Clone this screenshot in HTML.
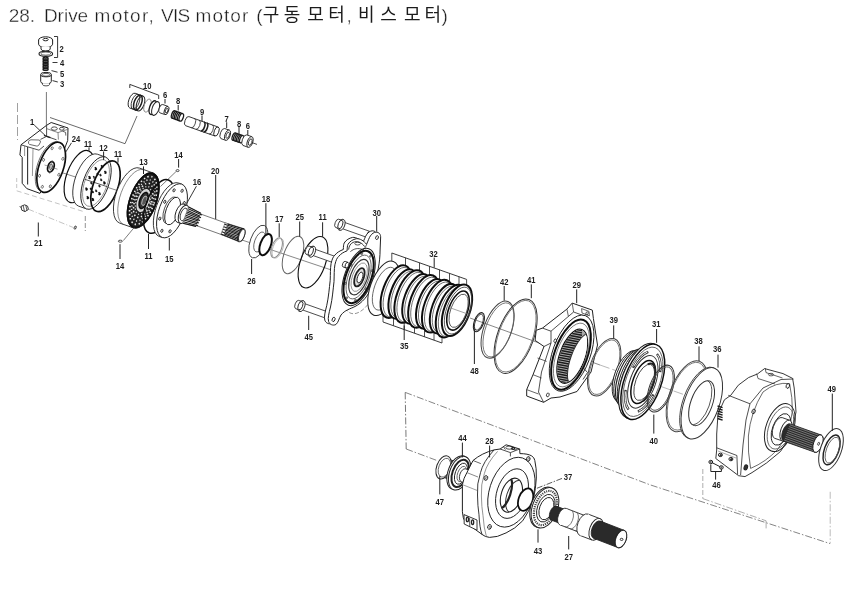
<!DOCTYPE html>
<html><head><meta charset="utf-8"><title>28. Drive motor, VIS motor</title>
<style>html,body{margin:0;padding:0;background:#fff}body{width:863px;height:590px;overflow:hidden;font-family:"Liberation Sans",sans-serif}svg{display:block}text{font-family:"Liberation Sans",sans-serif;fill:#1a1a1a}.n{fill:#1c1c1c;font-weight:bold}.k{font-family:"Liberation Sans","Noto Sans CJK KR",sans-serif}</style></head><body>
<svg width="863" height="590" viewBox="0 0 863 590">
<rect width="863" height="590" fill="#fff"/>
<defs><filter id="soft" x="0" y="0" width="863" height="590" filterUnits="userSpaceOnUse"><feGaussianBlur stdDeviation="0.33"/></filter></defs>
<g filter="url(#soft)">
<text x="8.7" y="21.7" textLength="26.4" font-size="19" fill="#1a1a1a" stroke="#fff" stroke-width="0.35" lengthAdjust="spacing">28.</text>
<text x="43.9" y="21.7" textLength="44.3" font-size="19" fill="#1a1a1a" stroke="#fff" stroke-width="0.35" lengthAdjust="spacing">Drive</text>
<text x="94.6" y="21.7" textLength="59.2" font-size="19" fill="#1a1a1a" stroke="#fff" stroke-width="0.35" lengthAdjust="spacing">motor,</text>
<text x="161.1" y="21.7" textLength="29.2" font-size="19" fill="#1a1a1a" stroke="#fff" stroke-width="0.35" lengthAdjust="spacing">VIS</text>
<text x="195.5" y="21.7" textLength="52.8" font-size="19" fill="#1a1a1a" stroke="#fff" stroke-width="0.35" lengthAdjust="spacing">motor</text>
<text x="256.2" y="21.7" textLength="6.3" font-size="19" fill="#1a1a1a" stroke="#fff" stroke-width="0.35" lengthAdjust="spacing">(</text>
<text class="k" x="262.7" y="21.4" textLength="37.5" font-size="18" fill="#1a1a1a" lengthAdjust="spacing">구동</text>
<text class="k" x="307.3" y="21.4" textLength="37.5" font-size="18" fill="#1a1a1a" lengthAdjust="spacing">모터</text>
<text class="k" x="358.1" y="21.4" textLength="38.7" font-size="18" fill="#1a1a1a" lengthAdjust="spacing">비스</text>
<text class="k" x="403.9" y="21.4" textLength="37.2" font-size="18" fill="#1a1a1a" lengthAdjust="spacing">모터</text>
<text x="346.5" y="21.7" font-size="19" fill="#1a1a1a" stroke="#fff" stroke-width="0.35" lengthAdjust="spacing">,</text>
<text x="441.5" y="21.7" font-size="19" fill="#1a1a1a" stroke="#fff" stroke-width="0.35" lengthAdjust="spacing">)</text>
<path d="M405.2 392.4L406.2 449" stroke="#555" stroke-width="0.8" fill="none" stroke-dasharray="7 2 1.5 2"/>
<path d="M405.2 392.4L650 484.8L830 543.6" stroke="#666" stroke-width="0.8" fill="none" stroke-dasharray="7 2 1.5 2"/>
<path d="M406.2 449L436.4 460.3" stroke="#666" stroke-width="0.8" fill="none" stroke-dasharray="7 2 1.5 2"/>
<path d="M830.2 491.8L830.2 543.6" stroke="#aaa" stroke-width="0.8" fill="none" stroke-dasharray="7 2 1.5 2"/>
<path d="M702.8 469L702.8 498.6" stroke="#999" stroke-width="0.8" fill="none" stroke-dasharray="5 2"/>
<path d="M702.8 498.6L766.1 520.8" stroke="#999" stroke-width="0.8" fill="none" stroke-dasharray="7 2 1.5 2"/>
<path d="M766.1 520.8L766.1 528.4" stroke="#999" stroke-width="0.8" fill="none" />
<path d="M17.5 103L17.5 140" stroke="#888" stroke-width="0.8" fill="none" stroke-dasharray="9 3"/>
<path d="M46.4 92L46.4 131" stroke="#555" stroke-width="0.8" fill="none" />
<path d="M16.7 178L16.7 190" stroke="#b5b5b5" stroke-width="0.8" fill="none" stroke-dasharray="4 2"/>
<path d="M16.7 190.8L85 212" stroke="#b5b5b5" stroke-width="0.8" fill="none" stroke-dasharray="5 3"/>
<path d="M28.3 209.2L73.3 227.5" stroke="#b5b5b5" stroke-width="0.8" fill="none" stroke-dasharray="6 2 1 2"/>
<path d="M85.3 216L85.3 231" stroke="#777" stroke-width="0.8" fill="none" stroke-dasharray="5 2"/>
<path d="M21 206.4L24.6 204.8L27.6 206.2L28.4 209.4L25 211.6L21.8 210.2Z" stroke="#333" stroke-width="1.0" fill="none" />
<path d="M23.2 205.6L24.4 211" stroke="#333" stroke-width="0.8" fill="none" />
<path d="M25.8 205.4L27 210.6" stroke="#333" stroke-width="0.8" fill="none" />
<path d="M19.6 206L21.6 208.6" stroke="#555" stroke-width="0.8" fill="none" />
<ellipse cx="75.2" cy="227.6" rx="0.9" ry="1.7" transform="rotate(20 75.2 227.6)" fill="none" stroke="#333" stroke-width="0.9" />
<text transform="translate(38.3 246.3) scale(0.78 1)" text-anchor="middle" font-size="9.8" class="n">21</text>
<path d="M38.3 222.5L38.3 236.5" stroke="#222" stroke-width="1.0" fill="none" />
<path d="M50 117.5L125 143.7L137 116" stroke="#444" stroke-width="0.8" fill="none" />
<path d="M60 172L215 222" stroke="#555" stroke-width="0.7" fill="none" />
<path d="M236 238L400 293" stroke="#555" stroke-width="0.7" fill="none" />
<path d="M470 318L600 365" stroke="#555" stroke-width="0.7" fill="none" />
<path d="M600 365L790 432" stroke="#888" stroke-width="0.6" fill="none" stroke-dasharray="10 3"/>
<ellipse cx="45.6" cy="40" rx="7" ry="3.2" fill="#fff" stroke="#222" stroke-width="1.0"/>
<path d="M38.6 40v4.2a7 3.2 0 0 0 14 0V40" stroke="#222" stroke-width="1.0" fill="#fff" />
<ellipse cx="45.6" cy="39.6" rx="2.6" ry="1.2" fill="none" stroke="#222" stroke-width="1.0"/>
<path d="M41 46.5v2.5a4.6 2 0 0 0 9.2 0v-2.5" stroke="#222" stroke-width="1.0" fill="#fff" />
<ellipse cx="45.8" cy="53.8" rx="6.8" ry="2.6" fill="none" stroke="#222" stroke-width="1.1"/>
<ellipse cx="45.8" cy="53.6" rx="5" ry="1.6" fill="none" stroke="#222" stroke-width="0.7"/>
<path d="M54 36.5h3.6v21h-3.6" stroke="#222" stroke-width="0.9" fill="none" />
<ellipse cx="45.6" cy="58.2" rx="2.6" ry="1" fill="none" stroke="#1a1a1a" stroke-width="1.2"/>
<ellipse cx="45.6" cy="59.8" rx="2.6" ry="1" fill="none" stroke="#1a1a1a" stroke-width="1.2"/>
<ellipse cx="45.6" cy="61.4" rx="2.6" ry="1" fill="none" stroke="#1a1a1a" stroke-width="1.2"/>
<ellipse cx="45.6" cy="63" rx="2.6" ry="1" fill="none" stroke="#1a1a1a" stroke-width="1.2"/>
<ellipse cx="45.6" cy="64.6" rx="2.6" ry="1" fill="none" stroke="#1a1a1a" stroke-width="1.2"/>
<ellipse cx="45.6" cy="66.2" rx="2.6" ry="1" fill="none" stroke="#1a1a1a" stroke-width="1.2"/>
<ellipse cx="45.6" cy="67.8" rx="2.6" ry="1" fill="none" stroke="#1a1a1a" stroke-width="1.2"/>
<ellipse cx="45.6" cy="69.4" rx="2.6" ry="1" fill="none" stroke="#1a1a1a" stroke-width="1.2"/>
<path d="M40.7 74.6v6.8a5.3 2.4 0 0 0 10.6 0v-6.8" stroke="#222" stroke-width="1.0" fill="#fff" />
<path d="M42.5 83.2v1.2a3.5 1.5 0 0 0 7 0v-1.2" stroke="#222" stroke-width="0.8" fill="#fff" />
<ellipse cx="46" cy="74.6" rx="5.3" ry="2.2" fill="#fff" stroke="#222" stroke-width="1.0"/>
<ellipse cx="46" cy="74.8" rx="3.8" ry="1.4" fill="none" stroke="#222" stroke-width="0.7"/>
<path d="M52.5 62.5L57.5 62.5" stroke="#222" stroke-width="0.9" fill="none" />
<path d="M51.5 70.6L57.5 72.2" stroke="#222" stroke-width="0.9" fill="none" />
<path d="M52.5 80.6L57.8 82" stroke="#222" stroke-width="0.9" fill="none" />
<text transform="translate(61.5 52.1) scale(0.78 1)" text-anchor="middle" font-size="9.8" class="n">2</text>
<text transform="translate(62 66.1) scale(0.78 1)" text-anchor="middle" font-size="9.8" class="n">4</text>
<text transform="translate(62 77.3) scale(0.78 1)" text-anchor="middle" font-size="9.8" class="n">5</text>
<text transform="translate(62 87.3) scale(0.78 1)" text-anchor="middle" font-size="9.8" class="n">3</text>
<path d="M129.8 88V84.4L158.7 95.2V99" stroke="#222" stroke-width="0.9" fill="none" />
<text transform="translate(147.3 88.5) scale(0.78 1)" text-anchor="middle" font-size="9.8" class="n">10</text>
<ellipse cx="132.5" cy="100.7" rx="3.7" ry="7.8" transform="rotate(20 132.5 100.7)" fill="#fff" stroke="none" stroke-width="0" />
<path d="M135.2 93.3L143.2 96.2L137.8 110.8L129.8 108Z" stroke="none" stroke-width="0" fill="#fff" />
<path d="M135.2 93.3A3.7 7.8 20 0 0 129.8 108" fill="none" stroke="#222" stroke-width="1.0" />
<path d="M135.2 93.3L143.2 96.2" stroke="#222" stroke-width="1.0" fill="none" />
<path d="M129.8 108L137.8 110.8" stroke="#222" stroke-width="1.0" fill="none" />
<ellipse cx="140.5" cy="103.5" rx="3.7" ry="7.8" transform="rotate(20 140.5 103.5)" fill="#fff" stroke="#222" stroke-width="1.0" />
<ellipse cx="137.9" cy="102.6" rx="3.7" ry="7.8" transform="rotate(20 137.9 102.6)" fill="none" stroke="#1a1a1a" stroke-width="1.5" />
<ellipse cx="135.5" cy="101.7" rx="3.7" ry="7.8" transform="rotate(20 135.5 101.7)" fill="none" stroke="#222" stroke-width="0.8" />
<ellipse cx="147.5" cy="105.6" rx="3.2" ry="6.8" transform="rotate(20 147.5 105.6)" fill="#fff" stroke="#777" stroke-width="0.8" />
<ellipse cx="153" cy="107.6" rx="3.4" ry="7.2" transform="rotate(20 153 107.6)" fill="#fff" stroke="#1a1a1a" stroke-width="1.3" />
<ellipse cx="155.6" cy="108.5" rx="3.4" ry="7.2" transform="rotate(20 155.6 108.5)" fill="#fff" stroke="#222" stroke-width="1.0" />
<ellipse cx="161.3" cy="108.7" rx="2.1" ry="4.4" transform="rotate(20 161.3 108.7)" fill="#fff" stroke="none" stroke-width="0" />
<path d="M162.8 104.5L168 106.4L165 114.6L159.8 112.8Z" stroke="none" stroke-width="0" fill="#fff" />
<path d="M162.8 104.5A2.1 4.4 20 0 0 159.8 112.8" fill="none" stroke="#222" stroke-width="0.9" />
<path d="M162.8 104.5L168 106.4" stroke="#222" stroke-width="0.9" fill="none" />
<path d="M159.8 112.8L165 114.6" stroke="#222" stroke-width="0.9" fill="none" />
<ellipse cx="166.5" cy="110.5" rx="2.1" ry="4.4" transform="rotate(20 166.5 110.5)" fill="#fff" stroke="#222" stroke-width="0.9" />
<ellipse cx="166.7" cy="110.6" rx="1.2" ry="2.4" transform="rotate(20 166.7 110.6)" fill="none" stroke="#222" stroke-width="0.8" />
<text transform="translate(165 98.1) scale(0.78 1)" text-anchor="middle" font-size="9.8" class="n">6</text>
<path d="M165 99L165 103.5" stroke="#222" stroke-width="1.0" fill="none" />
<ellipse cx="173.6" cy="114.6" rx="1.9" ry="4" transform="rotate(20 173.6 114.6)" fill="#fff" stroke="#1a1a1a" stroke-width="1.3" />
<ellipse cx="175.2" cy="115.1" rx="1.9" ry="4" transform="rotate(20 175.2 115.1)" fill="#fff" stroke="#1a1a1a" stroke-width="1.3" />
<ellipse cx="176.7" cy="115.7" rx="1.9" ry="4" transform="rotate(20 176.7 115.7)" fill="#fff" stroke="#1a1a1a" stroke-width="1.3" />
<ellipse cx="178.2" cy="116.2" rx="1.9" ry="4" transform="rotate(20 178.2 116.2)" fill="#fff" stroke="#1a1a1a" stroke-width="1.3" />
<ellipse cx="179.8" cy="116.8" rx="1.9" ry="4" transform="rotate(20 179.8 116.8)" fill="#fff" stroke="#1a1a1a" stroke-width="1.3" />
<ellipse cx="181.3" cy="117.3" rx="1.9" ry="4" transform="rotate(20 181.3 117.3)" fill="#fff" stroke="#1a1a1a" stroke-width="1.3" />
<text transform="translate(178.2 104.1) scale(0.78 1)" text-anchor="middle" font-size="9.8" class="n">8</text>
<path d="M178.2 105L178.2 110.5" stroke="#222" stroke-width="1.0" fill="none" />
<ellipse cx="187.3" cy="121.1" rx="2.3" ry="4.8" transform="rotate(20 187.3 121.1)" fill="#fff" stroke="none" stroke-width="0" />
<path d="M188.9 116.6L218.1 127L214.9 136L185.6 125.7Z" stroke="none" stroke-width="0" fill="#fff" />
<path d="M188.9 116.6A2.3 4.8 20 0 0 185.6 125.7" fill="none" stroke="#222" stroke-width="0.9" />
<path d="M188.9 116.6L218.1 127" stroke="#222" stroke-width="0.9" fill="none" />
<path d="M185.6 125.7L214.9 136" stroke="#222" stroke-width="0.9" fill="none" />
<ellipse cx="216.5" cy="131.5" rx="2.3" ry="4.8" transform="rotate(20 216.5 131.5)" fill="#fff" stroke="#222" stroke-width="0.9" />
<path d="M212.5 125A2.3 4.8 20 0 1 209.2 134" fill="none" stroke="#222" stroke-width="0.8" />
<path d="M206.8 123A2.3 4.8 20 0 1 203.5 132" fill="none" stroke="#222" stroke-width="1.6" />
<path d="M204 122A2.3 4.8 20 0 1 200.7 131" fill="none" stroke="#222" stroke-width="1.6" />
<path d="M199.3 120.3A2.3 4.8 20 0 1 196 129.3" fill="none" stroke="#222" stroke-width="0.8" />
<path d="M194.6 118.6A2.3 4.8 20 0 1 191.3 127.7" fill="none" stroke="#222" stroke-width="0.8" />
<text transform="translate(202 114.7) scale(0.78 1)" text-anchor="middle" font-size="9.8" class="n">9</text>
<path d="M202 115.5L202 121.5" stroke="#222" stroke-width="1.0" fill="none" />
<ellipse cx="222.8" cy="133.5" rx="2.6" ry="5.4" transform="rotate(20 222.8 133.5)" fill="#fff" stroke="none" stroke-width="0" />
<path d="M224.6 128.5L229.3 130.1L225.7 140.3L220.9 138.6Z" stroke="none" stroke-width="0" fill="#fff" />
<path d="M224.6 128.5A2.6 5.4 20 0 0 220.9 138.6" fill="none" stroke="#222" stroke-width="0.9" />
<path d="M224.6 128.5L229.3 130.1" stroke="#222" stroke-width="0.9" fill="none" />
<path d="M220.9 138.6L225.7 140.3" stroke="#222" stroke-width="0.9" fill="none" />
<ellipse cx="227.5" cy="135.2" rx="2.6" ry="5.4" transform="rotate(20 227.5 135.2)" fill="#fff" stroke="#222" stroke-width="0.9" />
<ellipse cx="227.7" cy="135.3" rx="1.5" ry="3.2" transform="rotate(20 227.7 135.3)" fill="none" stroke="#222" stroke-width="0.8" />
<text transform="translate(226.7 121.5) scale(0.78 1)" text-anchor="middle" font-size="9.8" class="n">7</text>
<path d="M226.7 122.2L226.7 128" stroke="#222" stroke-width="1.0" fill="none" />
<ellipse cx="234.2" cy="136.6" rx="1.8" ry="3.9" transform="rotate(20 234.2 136.6)" fill="#fff" stroke="#1a1a1a" stroke-width="1.3" />
<ellipse cx="235.7" cy="137.1" rx="1.8" ry="3.9" transform="rotate(20 235.7 137.1)" fill="#fff" stroke="#1a1a1a" stroke-width="1.3" />
<ellipse cx="237.2" cy="137.7" rx="1.8" ry="3.9" transform="rotate(20 237.2 137.7)" fill="#fff" stroke="#1a1a1a" stroke-width="1.3" />
<ellipse cx="238.7" cy="138.2" rx="1.8" ry="3.9" transform="rotate(20 238.7 138.2)" fill="#fff" stroke="#1a1a1a" stroke-width="1.3" />
<ellipse cx="240.2" cy="138.7" rx="1.8" ry="3.9" transform="rotate(20 240.2 138.7)" fill="#fff" stroke="#1a1a1a" stroke-width="1.3" />
<ellipse cx="241.7" cy="139.2" rx="1.8" ry="3.9" transform="rotate(20 241.7 139.2)" fill="#fff" stroke="#1a1a1a" stroke-width="1.3" />
<text transform="translate(239 126.5) scale(0.78 1)" text-anchor="middle" font-size="9.8" class="n">8</text>
<path d="M239 127L239 134" stroke="#222" stroke-width="1.0" fill="none" />
<ellipse cx="244.8" cy="140.2" rx="2.7" ry="5.6" transform="rotate(20 244.8 140.2)" fill="#fff" stroke="none" stroke-width="0" />
<path d="M246.7 134.9L251.9 136.7L248.1 147.3L242.9 145.4Z" stroke="none" stroke-width="0" fill="#fff" />
<path d="M246.7 134.9A2.7 5.6 20 0 0 242.9 145.4" fill="none" stroke="#222" stroke-width="0.9" />
<path d="M246.7 134.9L251.9 136.7" stroke="#222" stroke-width="0.9" fill="none" />
<path d="M242.9 145.4L248.1 147.3" stroke="#222" stroke-width="0.9" fill="none" />
<ellipse cx="250" cy="142" rx="2.7" ry="5.6" transform="rotate(20 250 142)" fill="#fff" stroke="#222" stroke-width="0.9" />
<ellipse cx="250.2" cy="142.1" rx="1.6" ry="3.4" transform="rotate(20 250.2 142.1)" fill="none" stroke="#222" stroke-width="0.8" />
<path d="M252 142.6L257 144.4" stroke="#222" stroke-width="0.8" fill="none" />
<text transform="translate(247.8 129.1) scale(0.78 1)" text-anchor="middle" font-size="9.8" class="n">6</text>
<path d="M247.8 130L247.8 135" stroke="#222" stroke-width="1.0" fill="none" />
<path d="M21 144.8L46.6 125.3L51.2 122.5L68 128L67.7 140.5L64 150L40 193.4L26.8 188.6L22.2 183.3L22.2 157.3L19.9 155Z" stroke="#222" stroke-width="1.0" fill="#fff" />
<path d="M21 144.8L39 150.2L44 146" stroke="#222" stroke-width="0.8" fill="none" />
<path d="M27.6 147L27.6 184.5" stroke="#333" stroke-width="1.1" fill="none" />
<path d="M24.6 146L24.6 156" stroke="#666" stroke-width="0.7" fill="none" />
<path d="M33 149L32.4 176" stroke="#666" stroke-width="0.7" fill="none" />
<path d="M28.6 141.6q0.4-1.6 2.4-1.8l8 0.2q1.8 0.4 1.4 2.2l-1.6 3q-0.8 1-2.4 0.8l-7-1.6q-1.4-0.8-0.8-2.8z" stroke="#444" stroke-width="0.8" fill="none" />
<path d="M46.6 125.3L46.6 136.4L56.5 139.8" stroke="#222" stroke-width="0.8" fill="none" />
<path d="M40.5 139.4L46.6 136.4" stroke="#222" stroke-width="0.8" fill="none" />
<path d="M46.6 128.6L58 132.6L58.4 139.6" stroke="#555" stroke-width="0.7" fill="none" />
<path d="M58 132.6L67.6 129.4" stroke="#555" stroke-width="0.7" fill="none" />
<ellipse cx="54.3" cy="128.6" rx="3" ry="1.7" fill="none" stroke="#222" stroke-width="0.8"/>
<ellipse cx="61.8" cy="128.8" rx="2.4" ry="1.4" fill="none" stroke="#222" stroke-width="0.8"/>
<path d="M62.6 131.2L65.6 132.4L65.8 135.6" stroke="#222" stroke-width="0.7" fill="none" />
<ellipse cx="49.4" cy="166.7" rx="12" ry="26" transform="rotate(19 49.4 166.7)" fill="#fff" stroke="#555" stroke-width="0.8" />
<ellipse cx="51.2" cy="167.3" rx="12.2" ry="26.2" transform="rotate(19 51.2 167.3)" fill="#fff" stroke="#111" stroke-width="1.7" />
<ellipse cx="60.1" cy="147.8" rx="1" ry="1.5" transform="rotate(19 60.1 147.8)" fill="none" stroke="#444" stroke-width="0.7" />
<ellipse cx="62.9" cy="158.8" rx="1" ry="1.5" transform="rotate(19 62.9 158.8)" fill="none" stroke="#444" stroke-width="0.7" />
<ellipse cx="58.9" cy="174.7" rx="1" ry="1.5" transform="rotate(19 58.9 174.7)" fill="none" stroke="#444" stroke-width="0.7" />
<ellipse cx="50.3" cy="186.3" rx="1" ry="1.5" transform="rotate(19 50.3 186.3)" fill="none" stroke="#444" stroke-width="0.7" />
<ellipse cx="42.3" cy="186.8" rx="1" ry="1.5" transform="rotate(19 42.3 186.8)" fill="none" stroke="#444" stroke-width="0.7" />
<ellipse cx="39.5" cy="175.8" rx="1" ry="1.5" transform="rotate(19 39.5 175.8)" fill="none" stroke="#444" stroke-width="0.7" />
<ellipse cx="43.5" cy="159.9" rx="1" ry="1.5" transform="rotate(19 43.5 159.9)" fill="none" stroke="#444" stroke-width="0.7" />
<ellipse cx="52.1" cy="148.3" rx="1" ry="1.5" transform="rotate(19 52.1 148.3)" fill="none" stroke="#444" stroke-width="0.7" />
<ellipse cx="50.9" cy="166.9" rx="3" ry="5.4" transform="rotate(19 50.9 166.9)" fill="#fff" stroke="#111" stroke-width="1.8" />
<ellipse cx="50.9" cy="166.9" rx="1.5" ry="2.8" transform="rotate(19 50.9 166.9)" fill="none" stroke="#333" stroke-width="0.8" />
<path d="M44.5 165L57.5 169.2" stroke="#666" stroke-width="0.6" fill="none" />
<path d="M52.4 160L49.6 174" stroke="#777" stroke-width="0.6" fill="none" />
<path d="M34.2 125L45 135.3" stroke="#222" stroke-width="0.9" fill="none" />
<path d="M44 135.4L50.4 137.6" stroke="#222" stroke-width="1.4" fill="none" />
<text transform="translate(32 124.7) scale(0.78 1)" text-anchor="middle" font-size="9.8" class="n">1</text>
<path d="M71.5 142.8L65.5 152.4" stroke="#222" stroke-width="0.9" fill="none" />
<text transform="translate(76 141.5) scale(0.78 1)" text-anchor="middle" font-size="9.8" class="n">24</text>
<ellipse cx="79.2" cy="176.6" rx="12.6" ry="27.4" transform="rotate(20 79.2 176.6)" fill="none" stroke="#111" stroke-width="1.2" />
<text transform="translate(88 146.7) scale(0.78 1)" text-anchor="middle" font-size="9.8" class="n">11</text>
<path d="M89 147.4L89 150.6" stroke="#222" stroke-width="1.0" fill="none" />
<ellipse cx="88" cy="180.2" rx="12.7" ry="27.6" transform="rotate(20 88 180.2)" fill="#fff" stroke="none" stroke-width="0" />
<path d="M97.4 154.2L105.4 157.1L86.6 208.9L78.5 206.1Z" stroke="none" stroke-width="0" fill="#fff" />
<path d="M97.4 154.2A12.7 27.6 20 0 0 78.5 206.1" fill="none" stroke="#222" stroke-width="0.9" />
<path d="M97.4 154.2L105.4 157.1" stroke="#222" stroke-width="0.9" fill="none" />
<path d="M78.5 206.1L86.6 208.9" stroke="#222" stroke-width="0.9" fill="none" />
<ellipse cx="96" cy="183" rx="12.7" ry="27.6" transform="rotate(20 96 183)" fill="#fff" stroke="#222" stroke-width="0.9" />
<ellipse cx="96" cy="183" rx="11.2" ry="24.5" transform="rotate(20 96 183)" fill="none" stroke="#777" stroke-width="0.7" />
<path d="M101.1 165.3l1.8 2.6m-1.6 0.2l1.4-2.4" stroke="#111" stroke-width="1.5" fill="none" />
<path d="M99.8 174l1.4 2.2m-1.2 0l1-1.8" stroke="#1a1a1a" stroke-width="1.4" fill="none" />
<path d="M104.5 170.9l1.8 2.6m-1.6 0.2l1.4-2.4" stroke="#111" stroke-width="1.5" fill="none" />
<path d="M100.5 178.7l1.4 2.2m-1.2 0l1-1.8" stroke="#1a1a1a" stroke-width="1.4" fill="none" />
<path d="M103.5 181.5l1.8 2.6m-1.6 0.2l1.4-2.4" stroke="#111" stroke-width="1.5" fill="none" />
<path d="M98.8 184.9l1.4 2.2m-1.2 0l1-1.8" stroke="#1a1a1a" stroke-width="1.4" fill="none" />
<path d="M98.6 192.3l1.8 2.6m-1.6 0.2l1.4-2.4" stroke="#111" stroke-width="1.5" fill="none" />
<path d="M95.5 189.7l1.4 2.2m-1.2 0l1-1.8" stroke="#1a1a1a" stroke-width="1.4" fill="none" />
<path d="M92 198.1l1.8 2.6m-1.6 0.2l1.4-2.4" stroke="#111" stroke-width="1.5" fill="none" />
<path d="M92.1 190.8l1.4 2.2m-1.2 0l1-1.8" stroke="#1a1a1a" stroke-width="1.4" fill="none" />
<path d="M86.9 196.2l1.8 2.6m-1.6 0.2l1.4-2.4" stroke="#111" stroke-width="1.5" fill="none" />
<path d="M90.2 187.8l1.4 2.2m-1.2 0l1-1.8" stroke="#1a1a1a" stroke-width="1.4" fill="none" />
<path d="M85.6 187.6l1.8 2.6m-1.6 0.2l1.4-2.4" stroke="#111" stroke-width="1.5" fill="none" />
<path d="M90.7 182l1.4 2.2m-1.2 0l1-1.8" stroke="#1a1a1a" stroke-width="1.4" fill="none" />
<path d="M88.7 176.1l1.8 2.6m-1.6 0.2l1.4-2.4" stroke="#111" stroke-width="1.5" fill="none" />
<path d="M93.3 176.1l1.4 2.2m-1.2 0l1-1.8" stroke="#1a1a1a" stroke-width="1.4" fill="none" />
<path d="M94.9 167.3l1.8 2.6m-1.6 0.2l1.4-2.4" stroke="#111" stroke-width="1.5" fill="none" />
<path d="M96.9 173l1.4 2.2m-1.2 0l1-1.8" stroke="#1a1a1a" stroke-width="1.4" fill="none" />
<path d="M84.5 179.2L107.5 186.8" stroke="#333" stroke-width="0.8" fill="none" />
<text transform="translate(103.6 150.5) scale(0.78 1)" text-anchor="middle" font-size="9.8" class="n">12</text>
<path d="M103.6 151.5L103.6 160" stroke="#222" stroke-width="1.0" fill="none" />
<ellipse cx="105.5" cy="186.3" rx="12.3" ry="26.6" transform="rotate(20 105.5 186.3)" fill="none" stroke="#111" stroke-width="1.7" />
<text transform="translate(118 156.5) scale(0.78 1)" text-anchor="middle" font-size="9.8" class="n">11</text>
<path d="M118 157.6L118 162.6" stroke="#222" stroke-width="1.0" fill="none" />
<ellipse cx="129.5" cy="195.6" rx="13.4" ry="29.2" transform="rotate(20 129.5 195.6)" fill="#fff" stroke="none" stroke-width="0" />
<path d="M139.5 168.1L153.2 173L133.2 227.8L119.5 223Z" stroke="none" stroke-width="0" fill="#fff" />
<path d="M139.5 168.1A13.4 29.2 20 0 0 119.5 223" fill="none" stroke="#222" stroke-width="0.9" />
<path d="M139.5 168.1L153.2 173" stroke="#222" stroke-width="0.9" fill="none" />
<path d="M119.5 223L133.2 227.8" stroke="#222" stroke-width="0.9" fill="none" />
<ellipse cx="143.2" cy="200.4" rx="13.4" ry="29.2" transform="rotate(20 143.2 200.4)" fill="#fff" stroke="#222" stroke-width="0.9" />
<path d="M143.2 169.6A13.4 29.2 20 0 0 123.2 224.4" fill="none" stroke="#555" stroke-width="0.7" />
<ellipse cx="143.2" cy="200.4" rx="12.9" ry="28.4" transform="rotate(20 143.2 200.4)" fill="#222" stroke="#111" stroke-width="2.0" />
<ellipse cx="143.2" cy="200.4" rx="11.3" ry="25.2" transform="rotate(20 143.2 200.4)" fill="none" stroke="#eee" stroke-width="1.6" stroke-dasharray="1.4 2.6"/>
<ellipse cx="143.2" cy="200.4" rx="9.6" ry="21.6" transform="rotate(20 143.2 200.4)" fill="none" stroke="#ddd" stroke-width="1.5" stroke-dasharray="1.2 2.2"/>
<ellipse cx="143.2" cy="200.4" rx="8" ry="18" transform="rotate(20 143.2 200.4)" fill="none" stroke="#eee" stroke-width="1.5" stroke-dasharray="1.5 2.4"/>
<ellipse cx="143.2" cy="200.4" rx="6.5" ry="14.6" transform="rotate(20 143.2 200.4)" fill="none" stroke="#ccc" stroke-width="1.3" stroke-dasharray="1.2 2.0"/>
<ellipse cx="143.4" cy="200.5" rx="5.2" ry="11.4" transform="rotate(20 143.4 200.5)" fill="#ccc" stroke="#ddd" stroke-width="1.4" />
<ellipse cx="143.6" cy="200.5" rx="3.8" ry="8.4" transform="rotate(20 143.6 200.5)" fill="#333" stroke="#111" stroke-width="1.6" />
<ellipse cx="144.4" cy="200.8" rx="2.2" ry="5" transform="rotate(20 144.4 200.8)" fill="#555" stroke="#bbb" stroke-width="0.9" />
<text transform="translate(143.5 165.1) scale(0.78 1)" text-anchor="middle" font-size="9.8" class="n">13</text>
<path d="M143.5 166.4L143.5 174" stroke="#222" stroke-width="1.0" fill="none" />
<text transform="translate(178.6 157.5) scale(0.78 1)" text-anchor="middle" font-size="9.8" class="n">14</text>
<path d="M178.6 159L178.6 167.6" stroke="#222" stroke-width="1.0" fill="none" />
<ellipse cx="177.6" cy="170.6" rx="1.5" ry="1" fill="none" stroke="#222" stroke-width="0.8"/>
<path d="M176.2 171.4L160.5 186.5" stroke="#444" stroke-width="0.7" fill="none" />
<text transform="translate(120 268.5) scale(0.78 1)" text-anchor="middle" font-size="9.8" class="n">14</text>
<path d="M120 244.2L120 259" stroke="#222" stroke-width="1.0" fill="none" />
<ellipse cx="120.3" cy="241.2" rx="2" ry="1" fill="none" stroke="#222" stroke-width="0.8"/>
<path d="M123.3 240.6L134.2 227.5" stroke="#444" stroke-width="0.7" fill="none" />
<ellipse cx="158.8" cy="206.4" rx="12.9" ry="28.2" transform="rotate(20 158.8 206.4)" fill="none" stroke="#111" stroke-width="1.6" />
<text transform="translate(148.5 259) scale(0.78 1)" text-anchor="middle" font-size="9.8" class="n">11</text>
<path d="M148.5 234L148.5 249" stroke="#222" stroke-width="1.0" fill="none" />
<ellipse cx="168.8" cy="209.7" rx="12.8" ry="28.4" transform="rotate(20 168.8 209.7)" fill="#fff" stroke="none" stroke-width="0" />
<path d="M178.5 183L181.7 184.1L162.3 237.5L159.1 236.4Z" stroke="none" stroke-width="0" fill="#fff" />
<path d="M178.5 183A12.8 28.4 20 0 0 159.1 236.4" fill="none" stroke="#222" stroke-width="0.9" />
<path d="M178.5 183L181.7 184.1" stroke="#222" stroke-width="0.9" fill="none" />
<path d="M159.1 236.4L162.3 237.5" stroke="#222" stroke-width="0.9" fill="none" />
<ellipse cx="172" cy="210.8" rx="12.8" ry="28.4" transform="rotate(20 172 210.8)" fill="#fff" stroke="#222" stroke-width="0.9" />
<ellipse cx="182.1" cy="190.8" rx="1" ry="1.6" transform="rotate(20 182.1 190.8)" fill="none" stroke="#222" stroke-width="0.9" />
<ellipse cx="184.2" cy="203" rx="1" ry="1.6" transform="rotate(20 184.2 203)" fill="none" stroke="#222" stroke-width="0.9" />
<ellipse cx="179.2" cy="219.8" rx="1" ry="1.6" transform="rotate(20 179.2 219.8)" fill="none" stroke="#222" stroke-width="0.9" />
<ellipse cx="170" cy="231.3" rx="1" ry="1.6" transform="rotate(20 170 231.3)" fill="none" stroke="#222" stroke-width="0.9" />
<ellipse cx="161.9" cy="230.8" rx="1" ry="1.6" transform="rotate(20 161.9 230.8)" fill="none" stroke="#222" stroke-width="0.9" />
<ellipse cx="159.8" cy="218.6" rx="1" ry="1.6" transform="rotate(20 159.8 218.6)" fill="none" stroke="#222" stroke-width="0.9" />
<ellipse cx="164.8" cy="201.8" rx="1" ry="1.6" transform="rotate(20 164.8 201.8)" fill="none" stroke="#222" stroke-width="0.9" />
<ellipse cx="174" cy="190.3" rx="1" ry="1.6" transform="rotate(20 174 190.3)" fill="none" stroke="#222" stroke-width="0.9" />
<ellipse cx="172.6" cy="211" rx="6.6" ry="14.5" transform="rotate(20 172.6 211)" fill="#fff" stroke="#222" stroke-width="0.9" />
<path d="M175.4 197.1A6.4 14 20 0 0 165.8 223.5" fill="none" stroke="#222" stroke-width="0.8" />
<text transform="translate(169.3 261.5) scale(0.78 1)" text-anchor="middle" font-size="9.8" class="n">15</text>
<path d="M169.3 238L169.3 250.5" stroke="#222" stroke-width="1.0" fill="none" />
<ellipse cx="180.4" cy="213.2" rx="4.6" ry="9.6" transform="rotate(20 180.4 213.2)" fill="#fff" stroke="none" stroke-width="0" />
<path d="M183.7 204.1L186.9 205.3L180.3 223.3L177.1 222.2Z" stroke="none" stroke-width="0" fill="#fff" />
<path d="M183.7 204.1A4.6 9.6 20 0 0 177.1 222.2" fill="none" stroke="#222" stroke-width="1.0" />
<path d="M183.7 204.1L186.9 205.3" stroke="#222" stroke-width="1.0" fill="none" />
<path d="M177.1 222.2L180.3 223.3" stroke="#222" stroke-width="1.0" fill="none" />
<ellipse cx="183.6" cy="214.3" rx="4.6" ry="9.6" transform="rotate(20 183.6 214.3)" fill="#fff" stroke="#222" stroke-width="1.0" />
<ellipse cx="183.8" cy="214.4" rx="3.1" ry="6.6" transform="rotate(20 183.8 214.4)" fill="none" stroke="#222" stroke-width="0.8" />
<path d="M188.1 209.5L243.5 229.4L239.3 241L183.9 221.1Z" stroke="#555" stroke-width="0.8" fill="#fff" />
<path d="M188.4 207L200.9 213.2L196.1 226.4L182.6 223.2Z" stroke="#555" stroke-width="0.6" fill="#fff" />
<path d="M182.9 223.3L196 226.4" stroke="#1a1a1a" stroke-width="1.1" fill="none" />
<path d="M183.4 221.7L198.1 225.7" stroke="#1a1a1a" stroke-width="1.1" fill="none" />
<path d="M184 220L197 223.7" stroke="#1a1a1a" stroke-width="1.1" fill="none" />
<path d="M184.6 218.4L199 223" stroke="#1a1a1a" stroke-width="1.1" fill="none" />
<path d="M185.2 216.8L197.9 221.1" stroke="#1a1a1a" stroke-width="1.1" fill="none" />
<path d="M185.8 215.2L200 220.4" stroke="#1a1a1a" stroke-width="1.1" fill="none" />
<path d="M186.4 213.6L198.9 218.5" stroke="#1a1a1a" stroke-width="1.1" fill="none" />
<path d="M187 212L201 217.8" stroke="#1a1a1a" stroke-width="1.1" fill="none" />
<path d="M187.6 210.4L199.8 215.9" stroke="#1a1a1a" stroke-width="1.1" fill="none" />
<path d="M188.2 208.7L201.9 215.1" stroke="#1a1a1a" stroke-width="1.1" fill="none" />
<path d="M188.7 207.1L200.8 213.2" stroke="#1a1a1a" stroke-width="1.1" fill="none" />
<path d="M225.1 222.8L243.8 228.6L239 241.8L220.9 234.4Z" stroke="#555" stroke-width="0.6" fill="#fff" />
<ellipse cx="241.4" cy="235.2" rx="3" ry="7" transform="rotate(20 241.4 235.2)" fill="#fff" stroke="#222" stroke-width="1.0" />
<path d="M221 234.1L238.3 241.1" stroke="#1a1a1a" stroke-width="1.1" fill="none" />
<path d="M223.9 233.8L238.8 239.8" stroke="#1a1a1a" stroke-width="1.1" fill="none" />
<path d="M221.9 231.7L239.3 238.4" stroke="#1a1a1a" stroke-width="1.1" fill="none" />
<path d="M224.8 231.4L239.8 237" stroke="#1a1a1a" stroke-width="1.1" fill="none" />
<path d="M222.8 229.2L240.3 235.6" stroke="#1a1a1a" stroke-width="1.1" fill="none" />
<path d="M225.7 228.9L240.8 234.2" stroke="#1a1a1a" stroke-width="1.1" fill="none" />
<path d="M223.7 226.8L241.3 232.9" stroke="#1a1a1a" stroke-width="1.1" fill="none" />
<path d="M226.6 226.5L241.8 231.5" stroke="#1a1a1a" stroke-width="1.1" fill="none" />
<path d="M224.5 224.3L242.3 230.1" stroke="#1a1a1a" stroke-width="1.1" fill="none" />
<path d="M227.5 224L242.9 228.7" stroke="#1a1a1a" stroke-width="1.1" fill="none" />
<ellipse cx="241.8" cy="235.3" rx="2.6" ry="6.4" transform="rotate(20 241.8 235.3)" fill="#fff" stroke="#222" stroke-width="0.8" />
<text transform="translate(197 184.7) scale(0.78 1)" text-anchor="middle" font-size="9.8" class="n">16</text>
<path d="M196.4 186.2L186.6 203.6" stroke="#222" stroke-width="0.9" fill="none" />
<text transform="translate(215.2 174.1) scale(0.78 1)" text-anchor="middle" font-size="9.8" class="n">20</text>
<path d="M215.7 175L215.7 219" stroke="#222" stroke-width="1.0" fill="none" />
<ellipse cx="258.3" cy="241.6" rx="8" ry="17.2" transform="rotate(20 258.3 241.6)" fill="#fff" stroke="#444" stroke-width="0.9" />
<ellipse cx="259.6" cy="242" rx="5" ry="10.5" transform="rotate(20 259.6 242)" fill="none" stroke="#555" stroke-width="0.8" />
<text transform="translate(251.6 284.1) scale(0.78 1)" text-anchor="middle" font-size="9.8" class="n">26</text>
<path d="M251.6 259L251.6 274" stroke="#222" stroke-width="1.0" fill="none" />
<ellipse cx="265.6" cy="244.6" rx="5.3" ry="11.2" transform="rotate(20 265.6 244.6)" fill="#fff" stroke="#111" stroke-width="2.0" />
<text transform="translate(265.9 201.7) scale(0.78 1)" text-anchor="middle" font-size="9.8" class="n">18</text>
<path d="M265.9 203.2L265.9 234.5" stroke="#222" stroke-width="1.0" fill="none" />
<ellipse cx="276.6" cy="247.8" rx="4.9" ry="10.4" transform="rotate(20 276.6 247.8)" fill="none" stroke="#888" stroke-width="1.0" />
<ellipse cx="277.8" cy="248.2" rx="4.9" ry="10.4" transform="rotate(20 277.8 248.2)" fill="none" stroke="#aaa" stroke-width="0.8" />
<text transform="translate(279.2 221.7) scale(0.78 1)" text-anchor="middle" font-size="9.8" class="n">17</text>
<path d="M279.2 223.3L279.2 237" stroke="#222" stroke-width="1.0" fill="none" />
<ellipse cx="293" cy="255" rx="9" ry="19.6" transform="rotate(20 293 255)" fill="none" stroke="#666" stroke-width="1.0" />
<text transform="translate(299.7 219.5) scale(0.78 1)" text-anchor="middle" font-size="9.8" class="n">25</text>
<path d="M299.7 221.5L299.7 236.6" stroke="#222" stroke-width="1.0" fill="none" />
<ellipse cx="313" cy="262.2" rx="12.4" ry="27" transform="rotate(20 313 262.2)" fill="none" stroke="#111" stroke-width="1.1" />
<text transform="translate(322.6 220.1) scale(0.78 1)" text-anchor="middle" font-size="9.8" class="n">11</text>
<path d="M322.6 222.3L322.6 236.8" stroke="#222" stroke-width="1.0" fill="none" />
<path d="M342.5 221.7L369.8 231.4L367.5 237.6L340.2 227.9Z" stroke="#3a3a3a" stroke-width="0.9" fill="#fff" />
<ellipse cx="368.7" cy="234.5" rx="1.6" ry="3.3" transform="rotate(20 368.7 234.5)" fill="#fff" stroke="#3a3a3a" stroke-width="0.9" />
<ellipse cx="340.6" cy="224.5" rx="2.8" ry="5.6" transform="rotate(20 340.6 224.5)" fill="#fff" stroke="none" stroke-width="0" />
<path d="M342.5 219.3L343.8 219.7L340 230.3L338.7 229.8Z" stroke="none" stroke-width="0" fill="#fff" />
<path d="M342.5 219.3A2.8 5.6 20 0 0 338.7 229.8" fill="none" stroke="#2a2a2a" stroke-width="0.9" />
<path d="M342.5 219.3L343.8 219.7" stroke="#2a2a2a" stroke-width="0.9" fill="none" />
<path d="M338.7 229.8L340 230.3" stroke="#2a2a2a" stroke-width="0.9" fill="none" />
<ellipse cx="341.9" cy="225" rx="2.8" ry="5.6" transform="rotate(20 341.9 225)" fill="#fff" stroke="#2a2a2a" stroke-width="0.9" />
<ellipse cx="337" cy="223.3" rx="2.2" ry="4.4" transform="rotate(20 337 223.3)" fill="#fff" stroke="none" stroke-width="0" />
<path d="M338.5 219.2L341.9 220.4L338.9 228.6L335.5 227.4Z" stroke="none" stroke-width="0" fill="#fff" />
<path d="M338.5 219.2A2.2 4.4 20 0 0 335.5 227.4" fill="none" stroke="#2a2a2a" stroke-width="0.9" />
<path d="M338.5 219.2L341.9 220.4" stroke="#2a2a2a" stroke-width="0.9" fill="none" />
<path d="M335.5 227.4L338.9 228.6" stroke="#2a2a2a" stroke-width="0.9" fill="none" />
<ellipse cx="340.4" cy="224.5" rx="2.2" ry="4.4" transform="rotate(20 340.4 224.5)" fill="#fff" stroke="#2a2a2a" stroke-width="0.9" />
<path d="M313 248.5L347.8 260.9L345.6 267.1L310.7 254.7Z" stroke="#3a3a3a" stroke-width="0.9" fill="#fff" />
<ellipse cx="346.7" cy="264" rx="1.6" ry="3.3" transform="rotate(20 346.7 264)" fill="#fff" stroke="#3a3a3a" stroke-width="0.9" />
<ellipse cx="311.1" cy="251.3" rx="2.8" ry="5.6" transform="rotate(20 311.1 251.3)" fill="#fff" stroke="none" stroke-width="0" />
<path d="M313 246.1L314.3 246.5L310.5 257.1L309.2 256.6Z" stroke="none" stroke-width="0" fill="#fff" />
<path d="M313 246.1A2.8 5.6 20 0 0 309.2 256.6" fill="none" stroke="#2a2a2a" stroke-width="0.9" />
<path d="M313 246.1L314.3 246.5" stroke="#2a2a2a" stroke-width="0.9" fill="none" />
<path d="M309.2 256.6L310.5 257.1" stroke="#2a2a2a" stroke-width="0.9" fill="none" />
<ellipse cx="312.4" cy="251.8" rx="2.8" ry="5.6" transform="rotate(20 312.4 251.8)" fill="#fff" stroke="#2a2a2a" stroke-width="0.9" />
<ellipse cx="307.5" cy="250.1" rx="2.2" ry="4.4" transform="rotate(20 307.5 250.1)" fill="#fff" stroke="none" stroke-width="0" />
<path d="M309 246L312.4 247.2L309.4 255.4L306 254.2Z" stroke="none" stroke-width="0" fill="#fff" />
<path d="M309 246A2.2 4.4 20 0 0 306 254.2" fill="none" stroke="#2a2a2a" stroke-width="0.9" />
<path d="M309 246L312.4 247.2" stroke="#2a2a2a" stroke-width="0.9" fill="none" />
<path d="M306 254.2L309.4 255.4" stroke="#2a2a2a" stroke-width="0.9" fill="none" />
<ellipse cx="310.9" cy="251.3" rx="2.2" ry="4.4" transform="rotate(20 310.9 251.3)" fill="#fff" stroke="#2a2a2a" stroke-width="0.9" />
<path d="M302.5 302.9L329.8 312.6L327.5 318.8L300.2 309.1Z" stroke="#3a3a3a" stroke-width="0.9" fill="#fff" />
<ellipse cx="328.7" cy="315.7" rx="1.6" ry="3.3" transform="rotate(20 328.7 315.7)" fill="#fff" stroke="#3a3a3a" stroke-width="0.9" />
<ellipse cx="300.6" cy="305.7" rx="2.8" ry="5.6" transform="rotate(20 300.6 305.7)" fill="#fff" stroke="none" stroke-width="0" />
<path d="M302.5 300.5L303.8 300.9L300 311.5L298.7 311Z" stroke="none" stroke-width="0" fill="#fff" />
<path d="M302.5 300.5A2.8 5.6 20 0 0 298.7 311" fill="none" stroke="#2a2a2a" stroke-width="0.9" />
<path d="M302.5 300.5L303.8 300.9" stroke="#2a2a2a" stroke-width="0.9" fill="none" />
<path d="M298.7 311L300 311.5" stroke="#2a2a2a" stroke-width="0.9" fill="none" />
<ellipse cx="301.9" cy="306.2" rx="2.8" ry="5.6" transform="rotate(20 301.9 306.2)" fill="#fff" stroke="#2a2a2a" stroke-width="0.9" />
<ellipse cx="297" cy="304.5" rx="2.2" ry="4.4" transform="rotate(20 297 304.5)" fill="#fff" stroke="none" stroke-width="0" />
<path d="M298.5 300.4L301.9 301.6L298.9 309.8L295.5 308.6Z" stroke="none" stroke-width="0" fill="#fff" />
<path d="M298.5 300.4A2.2 4.4 20 0 0 295.5 308.6" fill="none" stroke="#2a2a2a" stroke-width="0.9" />
<path d="M298.5 300.4L301.9 301.6" stroke="#2a2a2a" stroke-width="0.9" fill="none" />
<path d="M295.5 308.6L298.9 309.8" stroke="#2a2a2a" stroke-width="0.9" fill="none" />
<ellipse cx="300.4" cy="305.7" rx="2.2" ry="4.4" transform="rotate(20 300.4 305.7)" fill="#fff" stroke="#2a2a2a" stroke-width="0.9" />
<text transform="translate(308.7 339.8) scale(0.78 1)" text-anchor="middle" font-size="9.8" class="n">45</text>
<path d="M308.7 315.8L308.7 330" stroke="#222" stroke-width="1.0" fill="none" />
<path d="M380.7 271.2A16 33 20 0 1 344.1 304.3" fill="none" stroke="#777" stroke-width="0.8" stroke-dasharray="4 2"/>
<path d="M376 232.1C379 232 381 234.5 380.6 238L380.1 250C380 262 378 275 372 287C368 296 362 303 355 306.5C350 309 345 310 341 315C339 318 338.5 322.5 335.9 324.5C333 326 329.6 324.5 328.6 321.5C327.6 318 329 313 330.5 307C332.5 298 333 290 334 281.6C334.3 275 334 270 334.9 264.8C336 260 337 258 338.7 256.4C341 253.5 344 252 347.1 250.8C347.3 248 347.2 246 348 244.3C350 241 353 239.5 356.4 238.7C360 238.3 364 241 366.6 244.3C368 241 369 238 370.4 235.9C372 233.5 374 232.3 376 232.1Z" transform="translate(-3.8 -1.3)" fill="#fff" stroke="#222" stroke-width="1.0"/>
<path d="M376 232.1C379 232 381 234.5 380.6 238L380.1 250C380 262 378 275 372 287C368 296 362 303 355 306.5C350 309 345 310 341 315C339 318 338.5 322.5 335.9 324.5C333 326 329.6 324.5 328.6 321.5C327.6 318 329 313 330.5 307C332.5 298 333 290 334 281.6C334.3 275 334 270 334.9 264.8C336 260 337 258 338.7 256.4C341 253.5 344 252 347.1 250.8C347.3 248 347.2 246 348 244.3C350 241 353 239.5 356.4 238.7C360 238.3 364 241 366.6 244.3C368 241 369 238 370.4 235.9C372 233.5 374 232.3 376 232.1Z" fill="#fff" stroke="#222" stroke-width="1.0"/>
<ellipse cx="377" cy="237.6" rx="1.3" ry="2" transform="rotate(20 377 237.6)" fill="none" stroke="#222" stroke-width="0.9" />
<ellipse cx="333.6" cy="319.4" rx="1.4" ry="2.2" transform="rotate(20 333.6 319.4)" fill="none" stroke="#222" stroke-width="0.9" />
<ellipse cx="358.6" cy="277" rx="14" ry="30" transform="rotate(20 358.6 277)" fill="none" stroke="#222" stroke-width="1.0" />
<ellipse cx="358.6" cy="277" rx="12.6" ry="27.4" transform="rotate(20 358.6 277)" fill="none" stroke="#111" stroke-width="2.0" />
<ellipse cx="358.6" cy="277" rx="10.4" ry="23" transform="rotate(20 358.6 277)" fill="none" stroke="#555" stroke-width="0.8" />
<ellipse cx="370.4" cy="256.1" rx="0.7" ry="1.1" transform="rotate(20 370.4 256.1)" fill="none" stroke="#222" stroke-width="0.7" />
<ellipse cx="372" cy="270.6" rx="0.7" ry="1.1" transform="rotate(20 372 270.6)" fill="none" stroke="#222" stroke-width="0.7" />
<ellipse cx="365.8" cy="288.8" rx="0.7" ry="1.1" transform="rotate(20 365.8 288.8)" fill="none" stroke="#222" stroke-width="0.7" />
<ellipse cx="355.4" cy="300.1" rx="0.7" ry="1.1" transform="rotate(20 355.4 300.1)" fill="none" stroke="#222" stroke-width="0.7" />
<ellipse cx="346.8" cy="297.9" rx="0.7" ry="1.1" transform="rotate(20 346.8 297.9)" fill="none" stroke="#222" stroke-width="0.7" />
<ellipse cx="345.2" cy="283.4" rx="0.7" ry="1.1" transform="rotate(20 345.2 283.4)" fill="none" stroke="#222" stroke-width="0.7" />
<ellipse cx="351.4" cy="265.2" rx="0.7" ry="1.1" transform="rotate(20 351.4 265.2)" fill="none" stroke="#222" stroke-width="0.7" />
<ellipse cx="361.8" cy="253.9" rx="0.7" ry="1.1" transform="rotate(20 361.8 253.9)" fill="none" stroke="#222" stroke-width="0.7" />
<ellipse cx="358.9" cy="277.1" rx="8.5" ry="18.6" transform="rotate(20 358.9 277.1)" fill="none" stroke="#333" stroke-width="1.1" />
<ellipse cx="359.2" cy="277.2" rx="6.8" ry="15" transform="rotate(20 359.2 277.2)" fill="none" stroke="#777" stroke-width="0.7" />
<ellipse cx="359.4" cy="277.3" rx="4.4" ry="9.6" transform="rotate(20 359.4 277.3)" fill="#ddd" stroke="#222" stroke-width="1.8" />
<ellipse cx="360" cy="277.5" rx="2.5" ry="5.6" transform="rotate(20 360 277.5)" fill="#fff" stroke="#222" stroke-width="0.9" />
<path d="M348.6 249.6C349 246 350.5 243.6 353 242.4C357 240.6 361.5 242 364.6 246.6" stroke="#222" stroke-width="0.9" fill="none" />
<path d="M350.4 251.6C354 248.6 358 247.6 362.6 249.6" stroke="#222" stroke-width="0.8" fill="none" />
<ellipse cx="357.6" cy="243.6" rx="2.8" ry="1.4" fill="none" stroke="#222" stroke-width="0.8"/>
<path d="M366.6 244.3C365.6 248 363 251 358.6 252.4" stroke="#222" stroke-width="0.8" fill="none" />
<ellipse cx="344.2" cy="264.2" rx="1.7" ry="3" transform="rotate(20 344.2 264.2)" fill="#fff" stroke="none" stroke-width="0" />
<path d="M345.2 261.4L348 262.4L346 268L343.1 267Z" stroke="none" stroke-width="0" fill="#fff" />
<path d="M345.2 261.4A1.7 3 20 0 0 343.1 267" fill="none" stroke="#222" stroke-width="0.9" />
<path d="M345.2 261.4L348 262.4" stroke="#222" stroke-width="0.9" fill="none" />
<path d="M343.1 267L346 268" stroke="#222" stroke-width="0.9" fill="none" />
<ellipse cx="347" cy="265.2" rx="1.7" ry="3" transform="rotate(20 347 265.2)" fill="#fff" stroke="#222" stroke-width="0.9" />
<text transform="translate(376.7 215.5) scale(0.78 1)" text-anchor="middle" font-size="9.8" class="n">30</text>
<path d="M376.7 216L376.7 231.6" stroke="#222" stroke-width="1.0" fill="none" />
<path d="M391.8 253L466.6 279.4" stroke="#222" stroke-width="0.9" fill="none" />
<path d="M391.8 253L391.8 263.5" stroke="#222" stroke-width="0.8" fill="none" />
<path d="M405.5 257.8L405.5 268.3" stroke="#222" stroke-width="0.8" fill="none" />
<path d="M419.5 262.8L419.5 273.3" stroke="#222" stroke-width="0.8" fill="none" />
<path d="M429.5 266.3L429.5 276.8" stroke="#222" stroke-width="0.8" fill="none" />
<path d="M439.5 269.8L439.5 280.3" stroke="#222" stroke-width="0.8" fill="none" />
<path d="M449.5 273.4L449.5 283.9" stroke="#222" stroke-width="0.8" fill="none" />
<path d="M459 276.7L459 287.2" stroke="#222" stroke-width="0.8" fill="none" />
<path d="M466.6 279.4L466.6 289.9" stroke="#222" stroke-width="0.8" fill="none" />
<path d="M383 322L442 343" stroke="#222" stroke-width="0.9" fill="none" />
<path d="M383 322L383 311.5" stroke="#222" stroke-width="0.8" fill="none" />
<path d="M393.5 325.7L393.5 315.2" stroke="#222" stroke-width="0.8" fill="none" />
<path d="M404.2 329.5L404.2 319" stroke="#222" stroke-width="0.8" fill="none" />
<path d="M414.5 333.2L414.5 322.7" stroke="#222" stroke-width="0.8" fill="none" />
<path d="M424.5 336.8L424.5 326.3" stroke="#222" stroke-width="0.8" fill="none" />
<path d="M434 340.2L434 329.7" stroke="#222" stroke-width="0.8" fill="none" />
<path d="M442 343L442 332.5" stroke="#222" stroke-width="0.8" fill="none" />
<text transform="translate(433.4 256.7) scale(0.78 1)" text-anchor="middle" font-size="9.8" class="n">32</text>
<path d="M434.2 257.6L434.2 267.6" stroke="#222" stroke-width="1.0" fill="none" />
<text transform="translate(404.2 348.7) scale(0.78 1)" text-anchor="middle" font-size="9.8" class="n">35</text>
<path d="M404.2 325.5L404.2 340" stroke="#222" stroke-width="1.0" fill="none" />
<ellipse cx="383.6" cy="288.3" rx="13.3" ry="28.6" transform="rotate(20 383.6 288.3)" fill="#fff" stroke="#222" stroke-width="1.0" />
<ellipse cx="384.6" cy="288.7" rx="10.2" ry="22.5" transform="rotate(20 384.6 288.7)" fill="none" stroke="#555" stroke-width="0.8" />
<ellipse cx="396" cy="291.6" rx="13" ry="27.6" transform="rotate(20 396 291.6)" fill="#fff" stroke="#111" stroke-width="2.0" />
<ellipse cx="397.6" cy="292.2" rx="12.2" ry="26" transform="rotate(20 397.6 292.2)" fill="none" stroke="#444" stroke-width="0.7" />
<ellipse cx="402.9" cy="294" rx="12.2" ry="26" transform="rotate(20 402.9 294)" fill="#fff" stroke="#111" stroke-width="2.0" />
<ellipse cx="404.5" cy="294.6" rx="11.5" ry="24.4" transform="rotate(20 404.5 294.6)" fill="none" stroke="#444" stroke-width="0.7" />
<ellipse cx="409.8" cy="296.5" rx="13" ry="27.6" transform="rotate(20 409.8 296.5)" fill="#fff" stroke="#111" stroke-width="2.0" />
<ellipse cx="411.4" cy="297.1" rx="12.2" ry="26" transform="rotate(20 411.4 297.1)" fill="none" stroke="#444" stroke-width="0.7" />
<ellipse cx="416.7" cy="298.9" rx="12.2" ry="26" transform="rotate(20 416.7 298.9)" fill="#fff" stroke="#111" stroke-width="2.0" />
<ellipse cx="418.3" cy="299.5" rx="11.5" ry="24.4" transform="rotate(20 418.3 299.5)" fill="none" stroke="#444" stroke-width="0.7" />
<ellipse cx="423.6" cy="301.4" rx="13" ry="27.6" transform="rotate(20 423.6 301.4)" fill="#fff" stroke="#111" stroke-width="2.0" />
<ellipse cx="425.2" cy="302" rx="12.2" ry="26" transform="rotate(20 425.2 302)" fill="none" stroke="#444" stroke-width="0.7" />
<ellipse cx="430.5" cy="303.8" rx="12.2" ry="26" transform="rotate(20 430.5 303.8)" fill="#fff" stroke="#111" stroke-width="2.0" />
<ellipse cx="432.1" cy="304.4" rx="11.5" ry="24.4" transform="rotate(20 432.1 304.4)" fill="none" stroke="#444" stroke-width="0.7" />
<ellipse cx="437.4" cy="306.2" rx="13" ry="27.6" transform="rotate(20 437.4 306.2)" fill="#fff" stroke="#111" stroke-width="2.0" />
<ellipse cx="439" cy="306.8" rx="12.2" ry="26" transform="rotate(20 439 306.8)" fill="none" stroke="#444" stroke-width="0.7" />
<ellipse cx="444.3" cy="308.7" rx="12.2" ry="26" transform="rotate(20 444.3 308.7)" fill="#fff" stroke="#111" stroke-width="2.0" />
<ellipse cx="445.9" cy="309.3" rx="11.5" ry="24.4" transform="rotate(20 445.9 309.3)" fill="none" stroke="#444" stroke-width="0.7" />
<ellipse cx="451.2" cy="311.1" rx="13" ry="27.6" transform="rotate(20 451.2 311.1)" fill="#fff" stroke="#111" stroke-width="2.0" />
<ellipse cx="452.8" cy="311.7" rx="12.2" ry="26" transform="rotate(20 452.8 311.7)" fill="none" stroke="#444" stroke-width="0.7" />
<ellipse cx="457" cy="310.2" rx="12.8" ry="27" transform="rotate(20 457 310.2)" fill="#fff" stroke="#111" stroke-width="2.0" />
<ellipse cx="458" cy="310.6" rx="11.5" ry="24.6" transform="rotate(20 458 310.6)" fill="none" stroke="#444" stroke-width="0.8" />
<ellipse cx="458" cy="310.6" rx="9.4" ry="20.5" transform="rotate(20 458 310.6)" fill="none" stroke="#111" stroke-width="1.6" />
<ellipse cx="458.6" cy="310.8" rx="8" ry="17.5" transform="rotate(20 458.6 310.8)" fill="none" stroke="#444" stroke-width="0.8" />
<path d="M449 307.4L470 314.8" stroke="#666" stroke-width="0.6" fill="none" />
<ellipse cx="478.9" cy="322.2" rx="4.7" ry="10" transform="rotate(20 478.9 322.2)" fill="none" stroke="#222" stroke-width="1.1" />
<ellipse cx="478.9" cy="322.2" rx="3.7" ry="8.4" transform="rotate(20 478.9 322.2)" fill="none" stroke="#333" stroke-width="0.9" />
<text transform="translate(474.5 374.1) scale(0.78 1)" text-anchor="middle" font-size="9.8" class="n">48</text>
<path d="M474.4 328.5L474.4 364" stroke="#222" stroke-width="1.0" fill="none" />
<ellipse cx="497.6" cy="329.6" rx="13.8" ry="30" transform="rotate(20 497.6 329.6)" fill="none" stroke="#444" stroke-width="1.0" />
<ellipse cx="498.4" cy="329.9" rx="12.8" ry="28.4" transform="rotate(20 498.4 329.9)" fill="none" stroke="#666" stroke-width="0.8" />
<ellipse cx="515.6" cy="336.2" rx="18" ry="39" transform="rotate(20 515.6 336.2)" fill="none" stroke="#333" stroke-width="1.0" />
<ellipse cx="515.6" cy="336.2" rx="17" ry="37.6" transform="rotate(20 515.6 336.2)" fill="none" stroke="#666" stroke-width="0.8" />
<text transform="translate(504.2 284.9) scale(0.78 1)" text-anchor="middle" font-size="9.8" class="n">42</text>
<path d="M504.2 286L504.2 300.6" stroke="#222" stroke-width="1.0" fill="none" />
<text transform="translate(531.3 282.9) scale(0.78 1)" text-anchor="middle" font-size="9.8" class="n">41</text>
<path d="M531.3 284.4L531.3 298.2" stroke="#222" stroke-width="1.0" fill="none" />
<path d="M572.2 303.1L592.3 310.1L593.4 318.5L597.5 345L591 372L577 391.5L560 397L551 398L543.6 402.3L526.7 396L526.7 389.6L533 374.7L544 346.5L535.1 340.4L536.2 330.3L542.5 328.1L566.9 309.1Z" stroke="#222" stroke-width="1.0" fill="#fff" />
<path d="M542.5 328.1L551 331.2L551 343L544 346.5" stroke="#222" stroke-width="0.8" fill="none" />
<path d="M551 331.2L573.6 312L588.5 317.4" stroke="#222" stroke-width="0.8" fill="none" />
<path d="M573.6 312L572.2 303.1" stroke="#222" stroke-width="0.7" fill="none" />
<path d="M566.9 309.1L568.4 316.4" stroke="#222" stroke-width="0.7" fill="none" />
<path d="M581.6 308.6L582 313L589.4 315.8L589 311.4Z" stroke="#222" stroke-width="0.7" fill="none" />
<path d="M551 343L541.5 372L538.5 392L543.6 402.3" stroke="#222" stroke-width="0.8" fill="none" />
<path d="M533 374.7L541.5 378" stroke="#222" stroke-width="0.7" fill="none" />
<path d="M526.7 389.6L538.5 394" stroke="#222" stroke-width="0.7" fill="none" />
<path d="M537.5 358L546.6 361.4" stroke="#222" stroke-width="0.7" fill="none" />
<ellipse cx="571.6" cy="353.2" rx="18.8" ry="40" transform="rotate(20 571.6 353.2)" fill="#fff" stroke="#222" stroke-width="0.9" />
<ellipse cx="571" cy="354.6" rx="16.4" ry="36.8" transform="rotate(20 571 354.6)" fill="#fff" stroke="#111" stroke-width="2.0" />
<ellipse cx="571.4" cy="355" rx="14.8" ry="33.5" transform="rotate(20 571.4 355)" fill="none" stroke="#555" stroke-width="0.7" />
<ellipse cx="572.2" cy="356.2" rx="12.6" ry="28.4" transform="rotate(20 572.2 356.2)" fill="#fff" stroke="#111" stroke-width="1.3" />
<clipPath id="c29"><ellipse cx="572.2" cy="356.2" rx="12.2" ry="28.0" transform="rotate(20 572.2 356.2)"/></clipPath>
<g clip-path="url(#c29)">
<rect x="545" y="320" width="50" height="75" fill="#aaa"/>
<path d="M550 324.5L582 330.5" stroke="#1a1a1a" stroke-width="1.4" fill="none" />
<path d="M550 326.9L582 332.9" stroke="#1a1a1a" stroke-width="1.4" fill="none" />
<path d="M550 329.3L582 335.3" stroke="#1a1a1a" stroke-width="1.4" fill="none" />
<path d="M550 331.7L582 337.7" stroke="#1a1a1a" stroke-width="1.4" fill="none" />
<path d="M550 334.1L582 340.1" stroke="#1a1a1a" stroke-width="1.4" fill="none" />
<path d="M550 336.5L582 342.5" stroke="#1a1a1a" stroke-width="1.4" fill="none" />
<path d="M550 338.9L582 344.9" stroke="#1a1a1a" stroke-width="1.4" fill="none" />
<path d="M550 341.3L582 347.3" stroke="#1a1a1a" stroke-width="1.4" fill="none" />
<path d="M550 343.7L582 349.7" stroke="#1a1a1a" stroke-width="1.4" fill="none" />
<path d="M550 346.1L582 352.1" stroke="#1a1a1a" stroke-width="1.4" fill="none" />
<path d="M550 348.5L582 354.5" stroke="#1a1a1a" stroke-width="1.4" fill="none" />
<path d="M550 350.9L582 356.9" stroke="#1a1a1a" stroke-width="1.4" fill="none" />
<path d="M550 353.3L582 359.3" stroke="#1a1a1a" stroke-width="1.4" fill="none" />
<path d="M550 355.7L582 361.7" stroke="#1a1a1a" stroke-width="1.4" fill="none" />
<path d="M550 358.1L582 364.1" stroke="#1a1a1a" stroke-width="1.4" fill="none" />
<path d="M550 360.5L582 366.5" stroke="#1a1a1a" stroke-width="1.4" fill="none" />
<path d="M550 362.9L582 368.9" stroke="#1a1a1a" stroke-width="1.4" fill="none" />
<path d="M550 365.3L582 371.3" stroke="#1a1a1a" stroke-width="1.4" fill="none" />
<path d="M550 367.7L582 373.7" stroke="#1a1a1a" stroke-width="1.4" fill="none" />
<path d="M550 370.1L582 376.1" stroke="#1a1a1a" stroke-width="1.4" fill="none" />
<path d="M550 372.5L582 378.5" stroke="#1a1a1a" stroke-width="1.4" fill="none" />
<path d="M550 374.9L582 380.9" stroke="#1a1a1a" stroke-width="1.4" fill="none" />
<path d="M550 377.3L582 383.3" stroke="#1a1a1a" stroke-width="1.4" fill="none" />
<path d="M550 379.7L582 385.7" stroke="#1a1a1a" stroke-width="1.4" fill="none" />
<path d="M550 382.1L582 388.1" stroke="#1a1a1a" stroke-width="1.4" fill="none" />
<path d="M550 384.5L582 390.5" stroke="#1a1a1a" stroke-width="1.4" fill="none" />
<path d="M550 386.9L582 392.9" stroke="#1a1a1a" stroke-width="1.4" fill="none" />
<path d="M550 389.3L582 395.3" stroke="#1a1a1a" stroke-width="1.4" fill="none" />
<ellipse cx="580.4" cy="359" rx="9.6" ry="27" transform="rotate(20 580.4 359)" fill="#fff" stroke="#333" stroke-width="1.0" />
</g>
<ellipse cx="555.3" cy="340.8" rx="1.3" ry="2" transform="rotate(20 555.3 340.8)" fill="none" stroke="#222" stroke-width="0.8" />
<ellipse cx="587" cy="313.4" rx="1.1" ry="1.7" transform="rotate(20 587 313.4)" fill="none" stroke="#222" stroke-width="0.7" />
<ellipse cx="547.8" cy="394.9" rx="1.3" ry="2" transform="rotate(20 547.8 394.9)" fill="none" stroke="#222" stroke-width="0.8" />
<path d="M583.5 368L587.5 372.5L583 379.5" stroke="#222" stroke-width="0.8" fill="none" />
<text transform="translate(576.7 288.3) scale(0.78 1)" text-anchor="middle" font-size="9.8" class="n">29</text>
<path d="M576.7 289.4L576.7 303.2" stroke="#222" stroke-width="1.0" fill="none" />
<ellipse cx="604.2" cy="367.2" rx="14" ry="30.2" transform="rotate(20 604.2 367.2)" fill="none" stroke="#444" stroke-width="1.0" />
<ellipse cx="604.2" cy="367.2" rx="13" ry="28.6" transform="rotate(20 604.2 367.2)" fill="none" stroke="#666" stroke-width="0.8" />
<text transform="translate(613.7 323.1) scale(0.78 1)" text-anchor="middle" font-size="9.8" class="n">39</text>
<path d="M613.7 325.4L613.7 338.6" stroke="#222" stroke-width="1.0" fill="none" />
<ellipse cx="627.2" cy="376.3" rx="12.6" ry="27" transform="rotate(20 627.2 376.3)" fill="#fff" stroke="#222" stroke-width="0.9" />
<ellipse cx="629.6" cy="377.1" rx="13.3" ry="28.5" transform="rotate(20 629.6 377.1)" fill="#fff" stroke="#222" stroke-width="0.9" />
<ellipse cx="632.4" cy="378.1" rx="14.2" ry="30.5" transform="rotate(20 632.4 378.1)" fill="#fff" stroke="#222" stroke-width="1.2" />
<ellipse cx="635.3" cy="379.1" rx="15.1" ry="32.5" transform="rotate(20 635.3 379.1)" fill="#fff" stroke="#222" stroke-width="0.9" />
<ellipse cx="637.6" cy="380" rx="15.8" ry="34" transform="rotate(20 637.6 380)" fill="#fff" stroke="#222" stroke-width="0.9" />
<ellipse cx="640.3" cy="380.9" rx="18.3" ry="39.4" transform="rotate(20 640.3 380.9)" fill="#fff" stroke="#222" stroke-width="1.1" />
<ellipse cx="642.8" cy="381.8" rx="18.4" ry="39.6" transform="rotate(20 642.8 381.8)" fill="#fff" stroke="#111" stroke-width="1.5" />
<ellipse cx="642.8" cy="381.8" rx="16.8" ry="36.4" transform="rotate(20 642.8 381.8)" fill="none" stroke="#555" stroke-width="0.8" />
<ellipse cx="642.8" cy="381.8" rx="12.7" ry="27.6" transform="rotate(20 642.8 381.8)" fill="none" stroke="#333" stroke-width="1.0" />
<ellipse cx="643.2" cy="382" rx="10.3" ry="22.6" transform="rotate(20 643.2 382)" fill="none" stroke="#111" stroke-width="1.5" />
<ellipse cx="644.2" cy="382.4" rx="8.6" ry="19" transform="rotate(20 644.2 382.4)" fill="none" stroke="#444" stroke-width="0.9" />
<path d="M647.7 364.3A8.4 21 20 0 1 643.1 401.3" fill="none" stroke="#222" stroke-width="1.8" />
<path d="M657 354.1A14.8 32 20 0 1 660.2 372.2" fill="none" stroke="#333" stroke-width="2.4" />
<path d="M657.5 354.8A14.8 32 20 0 1 660.4 370.7" fill="none" stroke="#fff" stroke-width="1.0" />
<path d="M653.4 394.5A14.8 32 20 0 1 637.9 411.6" fill="none" stroke="#333" stroke-width="2.4" />
<path d="M652.6 395.9A14.8 32 20 0 1 638.8 411.2" fill="none" stroke="#fff" stroke-width="1.0" />
<path d="M628.6 409.5A14.8 32 20 0 1 625.6 389.9" fill="none" stroke="#333" stroke-width="2.4" />
<path d="M628.1 408.8A14.8 32 20 0 1 625.4 391.4" fill="none" stroke="#fff" stroke-width="1.0" />
<path d="M633 367.7A14.8 32 20 0 1 648.3 351.8" fill="none" stroke="#333" stroke-width="2.4" />
<path d="M633.7 366.3A14.8 32 20 0 1 647.4 352.1" fill="none" stroke="#fff" stroke-width="1.0" />
<text transform="translate(656.2 326.7) scale(0.78 1)" text-anchor="middle" font-size="9.8" class="n">31</text>
<path d="M656.6 329L656.6 342.8" stroke="#222" stroke-width="1.0" fill="none" />
<ellipse cx="660.8" cy="388.6" rx="11.4" ry="24.6" transform="rotate(20 660.8 388.6)" fill="none" stroke="#333" stroke-width="1.0" />
<ellipse cx="660.8" cy="388.6" rx="10.2" ry="22.8" transform="rotate(20 660.8 388.6)" fill="none" stroke="#555" stroke-width="0.9" />
<text transform="translate(653.8 444.3) scale(0.78 1)" text-anchor="middle" font-size="9.8" class="n">40</text>
<path d="M653.8 414.6L653.8 433.6" stroke="#222" stroke-width="1.0" fill="none" />
<ellipse cx="686.8" cy="396.2" rx="17.3" ry="37.2" transform="rotate(20 686.8 396.2)" fill="none" stroke="#444" stroke-width="1.0" />
<ellipse cx="686.8" cy="396.2" rx="16.3" ry="35.6" transform="rotate(20 686.8 396.2)" fill="none" stroke="#666" stroke-width="0.8" />
<ellipse cx="700.4" cy="402.8" rx="17.4" ry="37.4" transform="rotate(20 700.4 402.8)" fill="#fff" stroke="#444" stroke-width="0.9" />
<ellipse cx="701.8" cy="403.3" rx="17.4" ry="37.4" transform="rotate(20 701.8 403.3)" fill="#fff" stroke="#333" stroke-width="1.0" />
<ellipse cx="701.6" cy="403.2" rx="10.8" ry="23.6" transform="rotate(20 701.6 403.2)" fill="none" stroke="#333" stroke-width="1.0" />
<path d="M707.5 380.8A10.4 23.2 20 0 1 691.7 424.4" fill="none" stroke="#444" stroke-width="0.9" />
<text transform="translate(698.6 344.3) scale(0.78 1)" text-anchor="middle" font-size="9.8" class="n">38</text>
<path d="M699 346.4L699 361" stroke="#222" stroke-width="1.0" fill="none" />
<text transform="translate(717.2 351.9) scale(0.78 1)" text-anchor="middle" font-size="9.8" class="n">36</text>
<path d="M718 354.6L718 367.6" stroke="#222" stroke-width="1.0" fill="none" />
<path d="M757.4 374L764.6 368.6L783 373.6L792.6 378.4L794.2 388L796 412L791.4 434L780.5 451.5L766.5 463L752 472.6L745 476.6L738.6 475.7L715.8 458.5L716.7 450L716.7 434L718 414L724.4 399.8L730.7 395.4L738.3 385.2L748.5 377.6Z" stroke="#222" stroke-width="0.9" fill="#fff" />
<path d="M728.3 395.3L750 403.8L763 388L781 379.5L793.4 379" stroke="#222" stroke-width="0.8" fill="none" />
<path d="M750 403.8L746 420L743 445L740.6 475" stroke="#222" stroke-width="0.8" fill="none" />
<path d="M756.7 373.6L758 378.5L775 384" stroke="#222" stroke-width="0.7" fill="none" />
<path d="M765.2 368.2L766 372.6L782.5 378" stroke="#222" stroke-width="0.7" fill="none" />
<ellipse cx="771" cy="374.6" rx="2.6" ry="1.3" fill="none" stroke="#222" stroke-width="0.7"/>
<path d="M717.6 406L722.6 407.6" stroke="#1a1a1a" stroke-width="1.4" fill="none" />
<path d="M717.6 408.5L722.6 410.1" stroke="#1a1a1a" stroke-width="1.4" fill="none" />
<path d="M717.6 411L722.6 412.6" stroke="#1a1a1a" stroke-width="1.4" fill="none" />
<path d="M717.6 413.5L722.6 415.1" stroke="#1a1a1a" stroke-width="1.4" fill="none" />
<path d="M717.6 416L722.6 417.6" stroke="#1a1a1a" stroke-width="1.4" fill="none" />
<path d="M717.6 418.5L722.6 420.1" stroke="#1a1a1a" stroke-width="1.4" fill="none" />
<path d="M763 392Q776 381.6 789.6 383.6Q792.6 398 792.4 411Q790 432 778 449Q766 462 750.6 468.4Q747.6 452 748.4 436Q750.6 412 763 392Z" stroke="#444" stroke-width="0.8" fill="none" />
<ellipse cx="779.8" cy="427.6" rx="13.6" ry="25" transform="rotate(20 779.8 427.6)" fill="none" stroke="#222" stroke-width="1.0" />
<ellipse cx="780.4" cy="428" rx="11.6" ry="22" transform="rotate(20 780.4 428)" fill="none" stroke="#555" stroke-width="0.8" />
<ellipse cx="781" cy="429.4" rx="8.6" ry="16.5" transform="rotate(20 781 429.4)" fill="none" stroke="#222" stroke-width="0.9" />
<ellipse cx="787.8" cy="386" rx="1.6" ry="2.4" transform="rotate(20 787.8 386)" fill="none" stroke="#222" stroke-width="0.9" />
<ellipse cx="753.6" cy="411.4" rx="1.6" ry="2.4" transform="rotate(20 753.6 411.4)" fill="none" stroke="#222" stroke-width="0.9" />
<ellipse cx="745.8" cy="467.4" rx="1.7" ry="2.6" transform="rotate(20 745.8 467.4)" fill="#333" stroke="#222" stroke-width="1.0" />
<ellipse cx="778.5" cy="427.9" rx="5.2" ry="11" transform="rotate(20 778.5 427.9)" fill="#fff" stroke="none" stroke-width="0" />
<path d="M782.2 417.6L789.8 420.3L782.2 440.9L774.7 438.3Z" stroke="none" stroke-width="0" fill="#fff" />
<path d="M782.2 417.6A5.2 11 20 0 0 774.7 438.3" fill="none" stroke="#222" stroke-width="0.9" />
<path d="M782.2 417.6L789.8 420.3" stroke="#222" stroke-width="0.9" fill="none" />
<path d="M774.7 438.3L782.2 440.9" stroke="#222" stroke-width="0.9" fill="none" />
<ellipse cx="786" cy="430.6" rx="5.2" ry="11" transform="rotate(20 786 430.6)" fill="#fff" stroke="#222" stroke-width="0.9" />
<ellipse cx="786.9" cy="432.6" rx="4.4" ry="9.2" transform="rotate(20 786.9 432.6)" fill="#2a2a2a" stroke="none" stroke-width="0" />
<path d="M790 423.9L821.1 435L814.9 452.2L783.7 441.2Z" stroke="none" stroke-width="0" fill="#2a2a2a" />
<path d="M790 423.9A4.4 9.2 20 0 0 783.7 441.2" fill="none" stroke="#222" stroke-width="0.9" />
<path d="M790 423.9L821.1 435" stroke="#222" stroke-width="0.9" fill="none" />
<path d="M783.7 441.2L814.9 452.2" stroke="#222" stroke-width="0.9" fill="none" />
<ellipse cx="818" cy="443.6" rx="4.4" ry="9.2" transform="rotate(20 818 443.6)" fill="#2a2a2a" stroke="#222" stroke-width="0.9" />
<path d="M789.8 424.7L818.8 435.3" stroke="#aaa" stroke-width="0.6" fill="none" />
<path d="M789.1 426.6L818.1 437.2" stroke="#aaa" stroke-width="0.6" fill="none" />
<path d="M788.4 428.5L817.4 439.1" stroke="#aaa" stroke-width="0.6" fill="none" />
<path d="M787.7 430.5L816.7 441.1" stroke="#aaa" stroke-width="0.6" fill="none" />
<path d="M787 432.4L816 443" stroke="#aaa" stroke-width="0.6" fill="none" />
<path d="M786.3 434.3L815.3 444.9" stroke="#aaa" stroke-width="0.6" fill="none" />
<path d="M785.6 436.3L814.6 446.9" stroke="#aaa" stroke-width="0.6" fill="none" />
<path d="M784.9 438.2L813.9 448.8" stroke="#aaa" stroke-width="0.6" fill="none" />
<path d="M784.2 440.1L813.2 450.7" stroke="#aaa" stroke-width="0.6" fill="none" />
<ellipse cx="818" cy="443.6" rx="4.4" ry="9.2" transform="rotate(20 818 443.6)" fill="#fff" stroke="#222" stroke-width="0.9" />
<ellipse cx="818.6" cy="443.8" rx="0.9" ry="1.6" transform="rotate(20 818.6 443.8)" fill="none" stroke="#222" stroke-width="0.7" />
<ellipse cx="831" cy="449.6" rx="10.4" ry="22" transform="rotate(20 831 449.6)" fill="#fff" stroke="#333" stroke-width="1.0" />
<ellipse cx="831.6" cy="449.9" rx="7.2" ry="15.6" transform="rotate(20 831.6 449.9)" fill="none" stroke="#222" stroke-width="1.4" />
<ellipse cx="832.4" cy="450.2" rx="6" ry="13.6" transform="rotate(20 832.4 450.2)" fill="none" stroke="#555" stroke-width="0.8" />
<text transform="translate(831.8 392.1) scale(0.78 1)" text-anchor="middle" font-size="9.8" class="n">49</text>
<path d="M832.3 393.6L832.3 431" stroke="#222" stroke-width="1.0" fill="none" />
<path d="M710.8 464.4V471.5H721.4V468.4M715.6 471.5V479.6" stroke="#222" stroke-width="1.0" fill="none" />
<path d="M710.8 462L721.4 467.4" stroke="#222" stroke-width="1.0" fill="none" />
<ellipse cx="710.8" cy="462" rx="1.9" ry="1.7" fill="#fff" stroke="#222" stroke-width="1.0"/>
<ellipse cx="721.4" cy="467.4" rx="1.9" ry="1.7" fill="#fff" stroke="#222" stroke-width="1.0"/>
<ellipse cx="710.8" cy="462" rx="0.6" ry="0.6" fill="none" stroke="#222" stroke-width="0.8"/>
<ellipse cx="721.4" cy="467.4" rx="0.6" ry="0.6" fill="none" stroke="#222" stroke-width="0.8"/>
<path d="M716.7 447.8L736.9 455.5" stroke="#222" stroke-width="0.8" fill="none" />
<path d="M718 451L736 458" stroke="#777" stroke-width="0.6" fill="none" />
<ellipse cx="720.4" cy="454.9" rx="2" ry="1.7" fill="none" stroke="#222" stroke-width="1.0"/>
<ellipse cx="720.8" cy="455.2" rx="0.9" ry="0.8" fill="#333" stroke="#222" stroke-width="0.9"/>
<ellipse cx="730.9" cy="459.1" rx="2" ry="1.7" fill="none" stroke="#222" stroke-width="1.0"/>
<ellipse cx="731.3" cy="459.4" rx="0.9" ry="0.8" fill="#333" stroke="#222" stroke-width="0.9"/>
<path d="M736.9 455.5L737.6 474.6" stroke="#222" stroke-width="0.8" fill="none" />
<text transform="translate(716.4 487.7) scale(0.78 1)" text-anchor="middle" font-size="9.8" class="n">46</text>
<ellipse cx="444.4" cy="467.7" rx="5.4" ry="9.4" transform="rotate(20 444.4 467.7)" fill="#fff" stroke="none" stroke-width="0" />
<path d="M447.6 458.8L454.2 461.2L447.8 478.8L441.2 476.5Z" stroke="none" stroke-width="0" fill="#fff" />
<path d="M447.6 458.8A5.4 9.4 20 0 0 441.2 476.5" fill="none" stroke="#222" stroke-width="0.9" />
<path d="M447.6 458.8L454.2 461.2" stroke="#222" stroke-width="0.9" fill="none" />
<path d="M441.2 476.5L447.8 478.8" stroke="#222" stroke-width="0.9" fill="none" />
<ellipse cx="451" cy="470" rx="5.4" ry="9.4" transform="rotate(20 451 470)" fill="#fff" stroke="#222" stroke-width="0.9" />
<ellipse cx="443.6" cy="467.4" rx="7" ry="12" transform="rotate(20 443.6 467.4)" fill="#fff" stroke="#222" stroke-width="1.0" />
<ellipse cx="444.4" cy="467.7" rx="5.6" ry="9.8" transform="rotate(20 444.4 467.7)" fill="none" stroke="#555" stroke-width="0.8" />
<text transform="translate(439.8 504.7) scale(0.78 1)" text-anchor="middle" font-size="9.8" class="n">47</text>
<path d="M439.8 475.8L439.8 494.4" stroke="#222" stroke-width="1.0" fill="none" />
<ellipse cx="458" cy="472.6" rx="10" ry="17.6" transform="rotate(20 458 472.6)" fill="#fff" stroke="#222" stroke-width="1.0" />
<ellipse cx="459.6" cy="473.2" rx="10" ry="17.6" transform="rotate(20 459.6 473.2)" fill="#fff" stroke="#222" stroke-width="1.0" />
<ellipse cx="460.2" cy="473.4" rx="7.8" ry="14.2" transform="rotate(20 460.2 473.4)" fill="none" stroke="#222" stroke-width="2.0" />
<ellipse cx="461" cy="473.7" rx="5.8" ry="11" transform="rotate(20 461 473.7)" fill="none" stroke="#222" stroke-width="0.9" />
<ellipse cx="461.8" cy="474" rx="4.2" ry="8" transform="rotate(20 461.8 474)" fill="none" stroke="#555" stroke-width="0.8" />
<text transform="translate(462.4 440.7) scale(0.78 1)" text-anchor="middle" font-size="9.8" class="n">44</text>
<path d="M462.4 442.6L462.4 457.4" stroke="#222" stroke-width="1.0" fill="none" />
<ellipse cx="463.3" cy="475.3" rx="3.8" ry="6.8" transform="rotate(18 463.3 475.3)" fill="#fff" stroke="none" stroke-width="0" />
<path d="M465.4 468.8L486.1 476.1L481.9 489.1L461.2 481.7Z" stroke="none" stroke-width="0" fill="#fff" />
<path d="M465.4 468.8A3.8 6.8 18 0 0 461.2 481.7" fill="none" stroke="#222" stroke-width="0.9" />
<path d="M465.4 468.8L486.1 476.1" stroke="#222" stroke-width="0.9" fill="none" />
<path d="M461.2 481.7L481.9 489.1" stroke="#222" stroke-width="0.9" fill="none" />
<ellipse cx="484" cy="482.6" rx="3.8" ry="6.8" transform="rotate(18 484 482.6)" fill="#fff" stroke="#222" stroke-width="0.9" />
<path d="M494.1 449.9L500.1 449L506.1 444.8L519.7 449L519.9 453.6Q528 453.6 531.8 456Q534.4 457.6 534.8 460.5Q538.6 476 533.3 499.7Q529 512 522.7 520.8Q515 529 506.1 532.9Q497 537.6 489.5 537.4Q485 537 482 534.4L465.4 522.3Q462.6 518 462.4 511.8L462.4 484.6Q463.6 478 466.9 472.6L473 460.5Q482 453 494.1 449.9Z" stroke="#222" stroke-width="1.0" fill="#fff" />
<path d="M494.1 449.9Q483 462 480.5 472.6Q476.6 484 477.5 495Q477.6 506 479 514.8Q479.6 528 482 534.4" stroke="#222" stroke-width="0.9" fill="none" />
<path d="M497.6 451.4Q487 463 484.4 473.4Q480.6 485 481.4 496Q481.6 507 483 515.6Q483.8 528 486.4 536.6" stroke="#666" stroke-width="0.7" fill="none" />
<path d="M473 460.5L480.8 463.6" stroke="#222" stroke-width="0.7" fill="none" />
<path d="M466.9 472.6L478 477" stroke="#555" stroke-width="0.7" fill="none" />
<path d="M462.4 484.6L477 490.4" stroke="#777" stroke-width="0.7" fill="none" />
<path d="M500.1 449L510.4 452.6L519.7 449" stroke="#222" stroke-width="0.8" fill="none" />
<path d="M510.4 452.6L510.4 456.4" stroke="#222" stroke-width="0.8" fill="none" />
<ellipse cx="509.4" cy="447.6" rx="3.6" ry="1.6" fill="none" stroke="#222" stroke-width="0.8"/>
<ellipse cx="513.2" cy="448.4" rx="1.5" ry="1" fill="none" stroke="#222" stroke-width="1.3"/>
<path d="M503.6 446.8L505.4 449.6" stroke="#222" stroke-width="0.8" fill="none" />
<path d="M514.6 450.4L517.4 448.6" stroke="#222" stroke-width="0.8" fill="none" />
<ellipse cx="511.4" cy="492.2" rx="22" ry="36" transform="rotate(18 511.4 492.2)" fill="none" stroke="#222" stroke-width="0.9" />
<ellipse cx="512" cy="493.6" rx="15.2" ry="25.6" transform="rotate(18 512 493.6)" fill="none" stroke="#222" stroke-width="0.9" />
<ellipse cx="511.4" cy="495.2" rx="10.2" ry="17.6" transform="rotate(18 511.4 495.2)" fill="none" stroke="#222" stroke-width="1.1" />
<clipPath id="c28"><ellipse cx="511.4" cy="495.2" rx="10.2" ry="17.6" transform="rotate(18 511.4 495.2)"/></clipPath>
<g clip-path="url(#c28)">
<ellipse cx="515.6" cy="496.6" rx="9" ry="17" transform="rotate(18 515.6 496.6)" fill="none" stroke="#333" stroke-width="1.0" />
<ellipse cx="505.2" cy="493.2" rx="5.2" ry="15.5" transform="rotate(18 505.2 493.2)" fill="none" stroke="#222" stroke-width="2.2" />
</g>
<ellipse cx="528.2" cy="459" rx="1.8" ry="2.4" transform="rotate(20 528.2 459)" fill="none" stroke="#222" stroke-width="0.9" />
<ellipse cx="528.7" cy="459.2" rx="0.9" ry="1.2" transform="rotate(20 528.7 459.2)" fill="none" stroke="#555" stroke-width="0.7" />
<ellipse cx="485.9" cy="478" rx="1.8" ry="2.4" transform="rotate(20 485.9 478)" fill="none" stroke="#222" stroke-width="0.9" />
<ellipse cx="486.4" cy="478.2" rx="0.9" ry="1.2" transform="rotate(20 486.4 478.2)" fill="none" stroke="#555" stroke-width="0.7" />
<ellipse cx="489.5" cy="526.9" rx="1.8" ry="2.4" transform="rotate(20 489.5 526.9)" fill="none" stroke="#222" stroke-width="0.9" />
<ellipse cx="490" cy="527.1" rx="0.9" ry="1.2" transform="rotate(20 490 527.1)" fill="none" stroke="#555" stroke-width="0.7" />
<ellipse cx="531.8" cy="506.4" rx="1.8" ry="2.4" transform="rotate(20 531.8 506.4)" fill="none" stroke="#222" stroke-width="0.9" />
<ellipse cx="532.3" cy="506.6" rx="0.9" ry="1.2" transform="rotate(20 532.3 506.6)" fill="none" stroke="#555" stroke-width="0.7" />
<path d="M464 514.6L464.2 524L477 530.2L477 520Z" stroke="#222" stroke-width="0.9" fill="#fff" />
<ellipse cx="467.4" cy="519.4" rx="1.1" ry="2.3" fill="none" stroke="#222" stroke-width="1.3"/>
<ellipse cx="472.6" cy="522.2" rx="1.1" ry="2.3" fill="none" stroke="#222" stroke-width="1.3"/>
<path d="M469.6 517.8L469.8 526.4" stroke="#222" stroke-width="0.8" fill="none" />
<text transform="translate(489.6 443.7) scale(0.78 1)" text-anchor="middle" font-size="9.8" class="n">28</text>
<path d="M489.6 445.6L489.6 457.4" stroke="#222" stroke-width="1.0" fill="none" />
<ellipse cx="525.6" cy="499.6" rx="7" ry="11.6" transform="rotate(20 525.6 499.6)" fill="#fff" stroke="#111" stroke-width="1.8" />
<path d="M562 478.4L536.6 488.4" stroke="#333" stroke-width="0.8" fill="none" stroke-dasharray="6 1.5 1.5 1.5"/>
<text transform="translate(568 480.1) scale(0.78 1)" text-anchor="middle" font-size="9.8" class="n">37</text>
<ellipse cx="543.6" cy="507.2" rx="12.6" ry="21" transform="rotate(20 543.6 507.2)" fill="#fff" stroke="#222" stroke-width="1.0" />
<ellipse cx="545" cy="507.8" rx="12.6" ry="21" transform="rotate(20 545 507.8)" fill="#fff" stroke="#222" stroke-width="1.0" />
<ellipse cx="545.4" cy="508" rx="10.4" ry="17.8" transform="rotate(20 545.4 508)" fill="none" stroke="#444" stroke-width="2.2" stroke-dasharray="1.2 1.0"/>
<ellipse cx="545.8" cy="508.2" rx="8.4" ry="14.4" transform="rotate(20 545.8 508.2)" fill="none" stroke="#222" stroke-width="0.9" />
<ellipse cx="546.4" cy="508.6" rx="6.8" ry="11.6" transform="rotate(20 546.4 508.6)" fill="none" stroke="#222" stroke-width="0.9" />
<text transform="translate(538 554.3) scale(0.78 1)" text-anchor="middle" font-size="9.8" class="n">43</text>
<path d="M538 529.4L538 542.6" stroke="#222" stroke-width="1.0" fill="none" />
<path d="M556.7 506.3L566.2 509.9L560.8 523.7L551.3 520.1Z" stroke="#222" stroke-width="0.9" fill="#2a2a2a" />
<ellipse cx="554" cy="513.2" rx="4.1" ry="7.4" transform="rotate(21 554 513.2)" fill="#2a2a2a" stroke="none" stroke-width="0" />
<path d="M556.7 506.3A4.1 7.4 21 0 0 551.3 520.1" fill="none" stroke="#222" stroke-width="0.9" />
<ellipse cx="563.5" cy="516.8" rx="4.1" ry="7.4" transform="rotate(21 563.5 516.8)" fill="#2a2a2a" stroke="#222" stroke-width="0.9" />
<path d="M566.2 508.4L587.2 516.5L580.8 532.9L559.8 524.8Z" stroke="#222" stroke-width="0.9" fill="#fff" />
<ellipse cx="563" cy="516.6" rx="4.8" ry="8.8" transform="rotate(21 563 516.6)" fill="#fff" stroke="none" stroke-width="0" />
<path d="M566.2 508.4A4.8 8.8 21 0 0 559.8 524.8" fill="none" stroke="#222" stroke-width="0.9" />
<ellipse cx="584" cy="524.7" rx="4.8" ry="8.8" transform="rotate(21 584 524.7)" fill="#fff" stroke="#222" stroke-width="0.9" />
<path d="M571.2 510.3A4.8 8.8 21 0 1 564.8 526.8" fill="none" stroke="#555" stroke-width="0.8" />
<path d="M576.2 512.3A4.8 8.8 21 0 1 569.8 528.7" fill="none" stroke="#555" stroke-width="0.8" />
<path d="M581.2 514.2A4.8 8.8 21 0 1 574.8 530.6" fill="none" stroke="#555" stroke-width="0.8" />
<path d="M588.1 514.1L600.1 518.7L591.9 540L579.9 535.4Z" stroke="#222" stroke-width="0.9" fill="#fff" />
<ellipse cx="584" cy="524.7" rx="6.3" ry="11.4" transform="rotate(21 584 524.7)" fill="#fff" stroke="none" stroke-width="0" />
<path d="M588.1 514.1A6.3 11.4 21 0 0 579.9 535.4" fill="none" stroke="#222" stroke-width="0.9" />
<ellipse cx="596" cy="529.3" rx="6.3" ry="11.4" transform="rotate(21 596 529.3)" fill="#fff" stroke="#222" stroke-width="0.9" />
<path d="M600.3 521.1L624.3 530.4L617.7 547.5L593.7 538.3Z" stroke="#222" stroke-width="0.9" fill="#2a2a2a" />
<ellipse cx="597" cy="529.7" rx="5.1" ry="9.2" transform="rotate(21 597 529.7)" fill="#2a2a2a" stroke="none" stroke-width="0" />
<path d="M600.3 521.1A5.1 9.2 21 0 0 593.7 538.3" fill="none" stroke="#222" stroke-width="0.9" />
<ellipse cx="621" cy="539" rx="5.1" ry="9.2" transform="rotate(21 621 539)" fill="#2a2a2a" stroke="#222" stroke-width="0.9" />
<ellipse cx="621" cy="539" rx="5.1" ry="9.2" transform="rotate(21 621 539)" fill="#fff" stroke="#222" stroke-width="0.9" />
<ellipse cx="621.6" cy="539.4" rx="1.4" ry="1.1" fill="none" stroke="#222" stroke-width="0.9"/>
<text transform="translate(568.7 559.5) scale(0.78 1)" text-anchor="middle" font-size="9.8" class="n">27</text>
<path d="M568.7 536L568.7 549.4" stroke="#222" stroke-width="1.0" fill="none" />
</g></svg></body></html>
